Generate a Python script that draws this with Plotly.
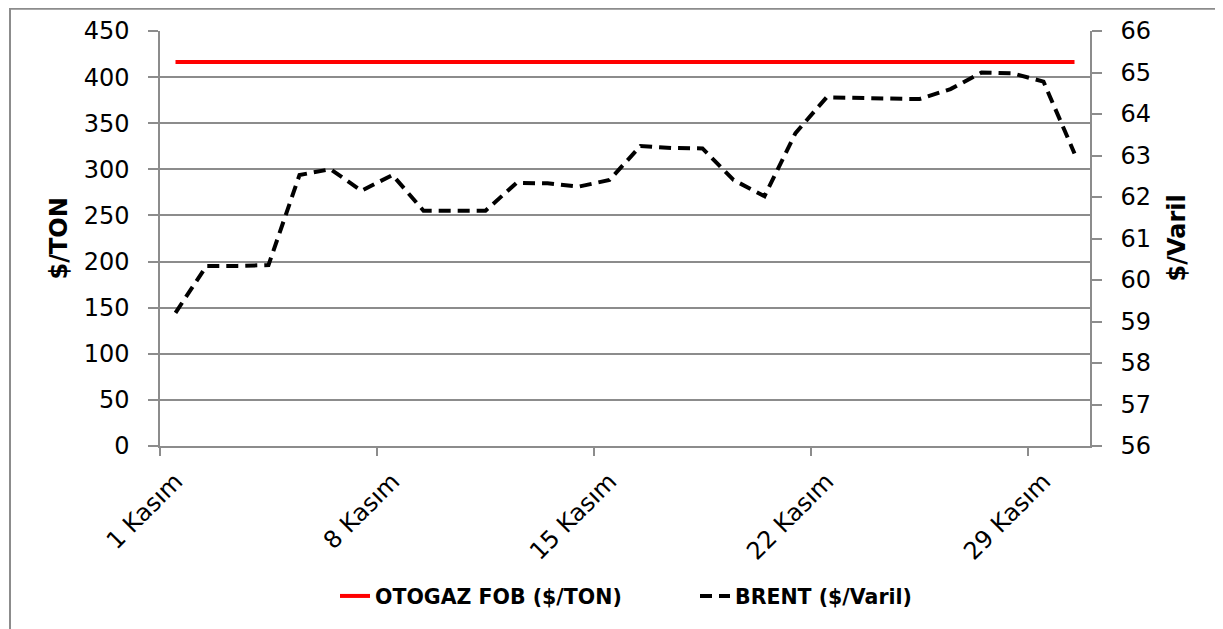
import plotly.graph_objects as go

# ---- data ----
days = [1, 2, 3, 4, 5, 6, 7, 8, 9, 10, 11, 12, 13, 14, 15,
        16, 17, 18, 19, 20, 21, 22, 23, 24, 25, 26, 27, 28, 29, 30]
otogaz_fob = [416.5, 416.5, 416.5, 416.5, 416.5, 416.5, 416.5, 416.5, 416.5, 416.5,
              416.5, 416.5, 416.5, 416.5, 416.5, 416.5, 416.5, 416.5, 416.5, 416.5,
              416.5, 416.5, 416.5, 416.5, 416.5, 416.5, 416.5, 416.5, 416.5, 416.5]
brent = [59.21, 60.34, 60.34, 60.36, 62.53, 62.67, 62.15, 62.53, 61.67, 61.67,
         61.67, 62.34, 62.33, 62.25, 62.41, 63.23, 63.18, 63.17, 62.41, 62.02,
         63.54, 64.40, 64.38, 64.36, 64.36, 64.60, 65.00, 64.98, 64.78, 63.05]
tick_days = [1, 8, 15, 22, 29]
tick_labels = ["1 Kasım", "8 Kasım", "15 Kasım", "22 Kasım", "29 Kasım"]
left_title = "$/TON"
right_title = "$/Varil"
series_names = ["OTOGAZ FOB ($/TON)", "BRENT ($/Varil)"]

FONT = "DejaVu Sans"
GRID = "#8c8c8c"

fig = go.Figure()
fig.add_trace(go.Scatter(
    x=days, y=otogaz_fob, name=series_names[0], mode="lines",
    line=dict(color="#ff0000", width=4), yaxis="y"))
fig.add_trace(go.Scatter(
    x=days, y=brent, name=series_names[1], mode="lines",
    line=dict(color="#000000", width=4, dash="12px,7px"), yaxis="y2"))

# figure size / plot area in figure pixels (page has an 8px body margin)
FW, FH = 1215, 621
L, R, T, B = 152, 1082, 23.3, 438
W, H = R - L, B - T

def px(x):
    return (x - L) / W

def py(y):
    return (B - y) / H

fig.update_layout(
    width=FW, height=FH,
    margin=dict(l=L, r=FW - R, t=T, b=FH - B, autoexpand=False),
    paper_bgcolor="white", plot_bgcolor="white",
    font=dict(family=FONT, size=24, color="black"),
    showlegend=True,
    legend=dict(orientation="h", x=px(687), xanchor="center",
                y=py(588), yanchor="middle",
                font=dict(family=FONT, size=20.5, color="black", weight="bold"),
                entrywidth=315, traceorder="normal"),
    xaxis=dict(
        range=[0.5, 30.5],
        tickmode="array",
        tickvals=tick_days,
        ticktext=tick_labels,
        tickangle=-45,
        ticks="", ticklabelstandoff=10,
        minor=dict(tickmode="array", tickvals=[d - 0.5 for d in tick_days],
                   ticks="outside", ticklen=8, tickcolor=GRID, tickwidth=1.5,
                   showgrid=False),
        showline=True, linecolor=GRID, linewidth=1.5,
        showgrid=False, zeroline=False,
        tickfont=dict(family=FONT, size=24, color="black"),
    ),
    yaxis=dict(
        range=[0, 450], dtick=50, tick0=0,
        ticks="outside", ticklen=10, tickcolor=GRID, tickwidth=1.5,
        showline=True, linecolor=GRID, linewidth=1.5,
        showgrid=True, gridcolor=GRID, gridwidth=1.5,
        zeroline=False, ticklabelstandoff=14,
        tickfont=dict(family=FONT, size=24, color="black"),
    ),
    yaxis2=dict(
        range=[56, 66], dtick=1, tick0=56,
        overlaying="y", side="right",
        ticks="outside", ticklen=10, tickcolor=GRID, tickwidth=1.5,
        showline=True, linecolor=GRID, linewidth=1.5,
        showgrid=False, zeroline=False, ticklabelstandoff=14,
        tickfont=dict(family=FONT, size=24, color="black"),
    ),
    annotations=[
        dict(text=left_title, xref="paper", yref="paper",
             x=px(50), y=0.5, xanchor="center", yanchor="middle",
             textangle=-90, showarrow=False,
             font=dict(family=FONT, size=24, color="black", weight="bold")),
        dict(text=right_title, xref="paper", yref="paper",
             x=px(1168), y=0.5, xanchor="center", yanchor="middle",
             textangle=-90, showarrow=False,
             font=dict(family=FONT, size=24, color="black", weight="bold")),
    ],
    shapes=[
        dict(type="rect", xref="paper", yref="paper",
             x0=px(2), x1=px(1212), y0=py(660), y1=py(1),
             line=dict(color=GRID, width=2), fillcolor="rgba(0,0,0,0)",
             layer="below"),
    ],
)

fig.write_html("out.html")
